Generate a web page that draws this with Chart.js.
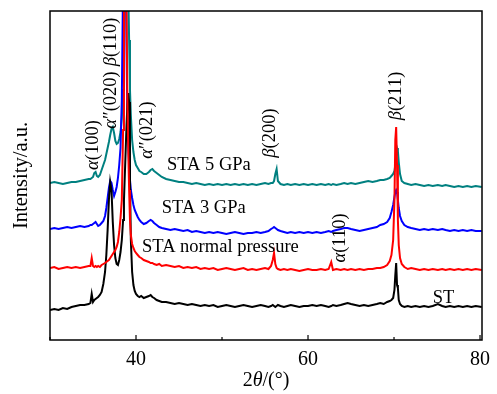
<!DOCTYPE html>
<html>
<head>
<meta charset="utf-8">
<script src="https://cdn.jsdelivr.net/npm/chart.js@4.4.1/dist/chart.umd.min.js"></script>
<style>
  html, body { margin: 0; padding: 0; background: #fff; }
  #wrap { width: 497px; height: 394px; }
</style>
</head>
<body>
<div id="wrap"><canvas id="myChart" width="497" height="394"></canvas></div>
<script>
// 2theta grid (degrees)
const twoTheta = [
    30, 30.5, 31, 31.5, 32, 32.5, 33, 33.5, 34, 34.5,
    34.7, 34.85, 35.0, 35.15, 35.3, 35.45, 35.6, 35.8, 36.0, 36.2,
    36.4, 36.55, 36.7, 36.85, 37.0, 37.15, 37.3, 37.45, 37.6, 37.75,
    37.9, 38.05, 38.2, 38.35, 38.5, 38.6, 38.7, 38.8, 38.9, 39.0,
    39.1, 39.2, 39.3, 39.4, 39.55, 39.7, 39.85, 40.0, 40.2, 40.4,
    40.6, 40.9, 41.2, 41.5, 41.7, 41.9, 42.1, 42.4, 42.7, 43.0,
    43.5, 44.0, 44.5, 45.0, 45.5, 46.0, 46.5, 47.0, 47.5, 48.0,
    48.5, 49.0, 49.5, 50.0, 50.5, 51.0, 51.5, 52.0, 52.5, 53.0,
    53.5, 54.0, 54.5, 55.0, 55.4, 55.7, 55.9, 56.05, 56.2, 56.35,
    56.5, 56.8, 57.2, 57.6, 58.0, 58.5, 59.0, 59.5, 60.0, 60.5,
    61.0, 61.5, 62.0, 62.4, 62.7, 62.9, 63.3, 63.8, 64.2, 64.6,
    65.0, 65.5, 66.0, 66.5, 67.0, 67.5, 68.0, 68.4, 68.8, 69.2,
    69.5, 69.7, 69.9, 70.05, 70.15, 70.25, 70.35, 70.45, 70.55, 70.7,
    70.9, 71.2, 71.6, 72.0, 72.5, 73.0, 73.5, 74.0, 74.5, 75.1,
    75.6, 76.0, 76.5, 77.0, 77.5, 78.0, 78.5, 79.0, 79.5, 80.2
];

// intensities (a.u., curves already stacked)
const st = [
    30, 31, 30, 32, 31, 33, 34, 35, 35, 36,
    37, 46, 38, 40, 41, 42, 43, 45, 48, 56,
    68, 85, 110, 140, 158, 150, 118, 95, 82, 76,
    75, 80, 88, 100, 120, 140, 165, 190, 215, 235,
    247, 238, 160, 100, 68, 55, 49, 46, 44, 43,
    44, 42, 43, 44, 45, 43, 42, 40, 39, 38,
    38, 37, 36, 37, 36, 35, 36, 35, 34, 35,
    34, 35, 33, 34, 35, 34, 33, 34, 35, 34,
    33, 34, 35, 34, 33, 34, 35, 34, 33, 34,
    35, 34, 33, 34, 35, 34, 33, 34, 34, 35,
    34, 35, 34, 33, 34, 35, 34, 35, 36, 37,
    36, 35, 34, 35, 34, 35, 36, 37, 36, 38,
    39, 40, 42, 50, 65, 77, 55, 52, 40, 36,
    34, 33, 34, 33, 34, 33, 34, 33, 34, 36,
    34, 33, 34, 33, 34, 33, 34, 33, 34, 33
];

const normalPressure = [
    72, 73, 71, 72, 73, 72, 73, 72, 73, 74,
    74, 82, 74, 73, 74, 73, 74, 73, 75, 76,
    77, 78, 79, 80, 82, 84, 86, 88, 90, 93,
    98, 108, 122, 140, 210, 330, 450, 450, 330, 240,
    190, 150, 120, 105, 96, 92, 89, 87, 85, 83,
    82, 80, 79, 78, 77, 77, 76, 75, 76, 74,
    75, 74, 73, 74, 72, 73, 72, 73, 71, 72,
    71, 72, 70, 71, 72, 71, 70, 71, 72, 70,
    71, 70, 71, 72, 71, 74, 80, 87, 76, 72,
    71, 70, 71, 70, 71, 70, 69, 70, 71, 70,
    70, 71, 70, 71, 78, 70, 71, 70, 71, 70,
    71, 70, 71, 70, 71, 71, 72, 72, 73, 75,
    79, 85, 100, 140, 200, 213, 175, 120, 95, 82,
    76, 73, 71, 72, 71, 70, 71, 70, 71, 70,
    71, 70, 71, 70, 71, 70, 71, 70, 71, 70
];

const gpa3 = [
    111, 112, 111, 112, 113, 112, 113, 114, 113, 114,
    115, 115, 116, 117, 118, 116, 114, 115, 117, 119,
    124, 132, 142, 152, 159, 157, 150, 144, 148, 153,
    162, 175, 192, 240, 360, 480, 520, 420, 290, 220,
    195, 175, 160, 150, 142, 135, 130, 127, 123, 120,
    118, 116, 117, 119, 120, 119, 117, 115, 113, 112,
    111, 110, 111, 110, 109, 110, 108, 109, 108, 107,
    108, 107, 108, 107, 106, 107, 108, 107, 106, 107,
    107, 108, 107, 108, 109, 111, 112, 113, 112, 111,
    110, 109, 108, 107, 108, 107, 108, 107, 108, 107,
    108, 107, 108, 109, 108, 109, 110, 111, 112, 112,
    111, 110, 109, 110, 111, 112, 113, 115, 116, 118,
    122, 128, 135, 143, 148, 150, 148, 140, 132, 124,
    119, 115, 113, 112, 111, 110, 111, 110, 111, 110,
    111, 110, 109, 110, 109, 110, 109, 110, 109, 109
];

const gpa5 = [
    157, 158, 157, 156, 157, 158, 158, 159, 160, 161,
    161, 162, 163, 167, 168, 164, 163, 165, 170, 175,
    180, 186, 192, 198, 205, 211, 213, 207, 199, 196,
    197, 201, 208, 222, 250, 290, 340, 430, 500, 460,
    350, 300, 250, 225, 200, 188, 180, 175, 172, 169,
    168, 166, 166, 168, 170, 171, 169, 167, 165, 163,
    161, 160, 159, 158, 158, 157, 156, 157, 156, 155,
    156, 155, 156, 155, 156, 155, 156, 155, 156, 155,
    156, 155, 156, 157, 156, 157, 157, 159, 166, 171,
    159, 156, 155, 156, 155, 156, 155, 156, 155, 156,
    155, 156, 155, 156, 155, 156, 155, 156, 157, 156,
    157, 156, 157, 158, 159, 158, 159, 160, 160, 161,
    162, 164, 166, 169, 175, 185, 192, 189, 178, 166,
    159, 157, 156, 155, 156, 155, 154, 155, 154, 155,
    154, 155, 154, 153, 154, 153, 154, 153, 154, 153
];

const xTicks = [30, 40, 50, 60, 70, 80];
const xTickLabels = ['', '40', '', '60', '', '80'];

// peak / curve labels: [2theta, intensity, rotated, text parts]  (parts: [text, italic])
const notes = [
    [35.05, 195, true, [['α', 1], ['(100)', 0]]],
    [37.15, 240, true, [['α', 1], ['″(020)', 0]]],
    [37.15, 298, true, [['β', 1], ['(110)', 0]]],
    [41.3, 210, true, [['α', 1], ['″(021)', 0]]],
    [55.6, 207, true, [['β', 1], ['(200)', 0]]],
    [70.25, 244, true, [['β', 1], ['(211)', 0]]],
    [63.7, 102, true, [['α', 1], ['(110)', 0]]],
    [43.6, 175, false, [['STA 5 GPa', 0]]],
    [43.0, 132, false, [['STA 3 GPa', 0]]],
    [40.7, 93, false, [['STA normal pressure', 0]]],
    [74.5, 42, false, [['ST', 0]]]
];

const FONT = '"Liberation Serif", "Times New Roman", serif';

function drawParts(ctx, parts, size, align) {
    let w = 0;
    parts.forEach(p => {
        ctx.font = (p[1] ? 'italic ' : '') + size + 'px ' + FONT;
        w += ctx.measureText(p[0]).width;
    });
    let x = align === 'center' ? -w / 2 : 0;
    parts.forEach(p => {
        ctx.font = (p[1] ? 'italic ' : '') + size + 'px ' + FONT;
        ctx.fillText(p[0], x, 0);
        x += ctx.measureText(p[0]).width;
    });
}

const decor = {
    id: 'decor',
    afterDraw(chart) {
        const ctx = chart.ctx;
        const a = chart.chartArea;
        const xs = chart.scales.x, ys = chart.scales.y;
        ctx.save();
        // frame
        ctx.strokeStyle = '#000';
        ctx.lineWidth = 1.5;
        ctx.strokeRect(a.left, a.top, a.right - a.left, a.bottom - a.top);
        // inward ticks
        ctx.lineWidth = 1.2;
        xTicks.forEach((v, i) => {
            const px = xs.getPixelForValue(v);
            const len = xTickLabels[i] ? 5 : 3;
            ctx.beginPath();
            ctx.moveTo(px, a.bottom);
            ctx.lineTo(px, a.bottom - len);
            ctx.stroke();
        });
        ctx.fillStyle = '#000';
        ctx.textBaseline = 'middle';
        // labels
        notes.forEach(n => {
            ctx.save();
            ctx.translate(xs.getPixelForValue(n[0]), ys.getPixelForValue(n[1]));
            if (n[2]) ctx.rotate(-Math.PI / 2);
            drawParts(ctx, n[3], 18.5, n[2] ? 'center' : 'left');
            ctx.restore();
        });
        // axis titles
        ctx.save();
        ctx.translate((a.left + a.right) / 2, 381);
        drawParts(ctx, [['2', 0], ['θ', 1], ['/(°)', 0]], 20, 'center');
        ctx.restore();
        ctx.save();
        ctx.translate(22, (a.top + a.bottom) / 2);
        ctx.rotate(-Math.PI / 2);
        drawParts(ctx, [['Intensity/a.u.', 0]], 20.5, 'center');
        ctx.restore();
        ctx.restore();
    }
};

function pts(ys) {
    return twoTheta.map((t, i) => ({ x: t, y: ys[i] }));
}

const dataChart = {
    datasets: [
        { label: 'STA normal pressure', data: pts(normalPressure), borderColor: 'rgb(255,0,0)' },
        { label: 'ST', data: pts(st), borderColor: 'rgb(0,0,0)' },
        { label: 'STA 3 GPa', data: pts(gpa3), borderColor: 'rgb(0,0,255)' },
        { label: 'STA 5 GPa', data: pts(gpa5), borderColor: 'rgb(0,128,128)' }
    ]
};

const config = {
    type: 'line',
    data: dataChart,
    options: {
        responsive: false,
        animation: false,
        layout: { padding: { left: 50, right: 15, top: 11, bottom: 0 } },
        elements: {
            point: { radius: 0 },
            line: { borderWidth: 2, tension: 0 }
        },
        plugins: { legend: { display: false }, tooltip: { enabled: false } },
        scales: {
            x: {
                type: 'linear',
                min: 30,
                max: 80.23,
                afterBuildTicks: s => { s.ticks = xTicks.map(v => ({ value: v })); },
                afterFit: s => { s.height = 54; },
                grid: { display: false },
                border: { display: false },
                ticks: {
                    autoSkip: false,
                    maxRotation: 0,
                    padding: 0,
                    color: '#000',
                    font: { family: FONT, size: 20 },
                    callback: v => xTickLabels[xTicks.indexOf(v)] || ''
                }
            },
            y: { display: false, min: 0, max: 329 }
        }
    },
    plugins: [decor]
};

const myChart = new Chart(document.getElementById('myChart'), config);
</script>
</body>
</html>
